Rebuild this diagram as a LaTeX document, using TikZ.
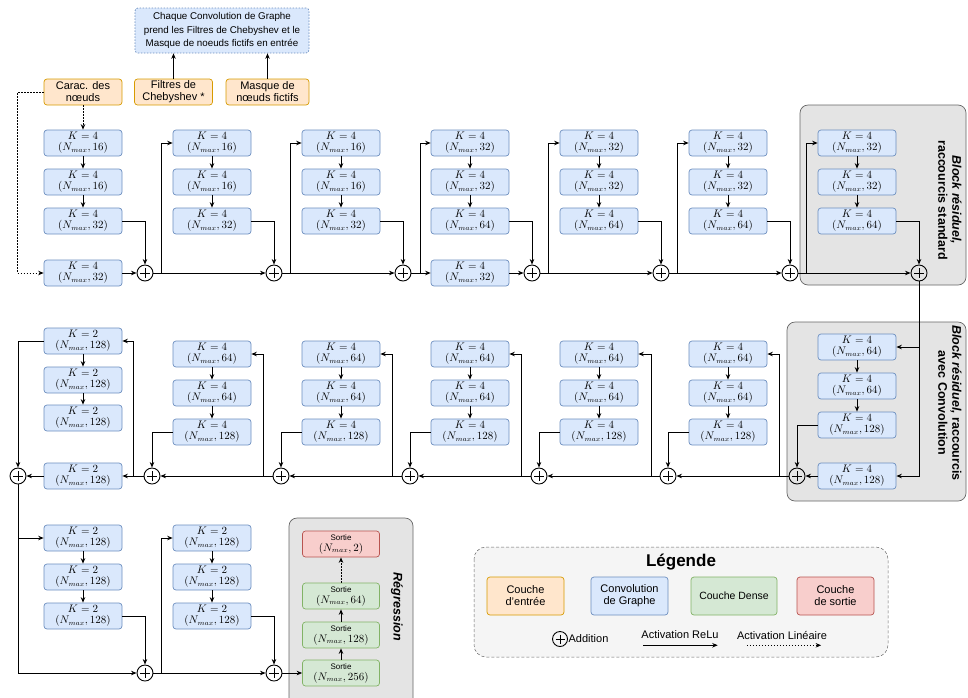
\documentclass[tikz,border=0pt]{standalone}
\usepackage{fontspec}
\setmainfont{Liberation Sans}
\usepackage{xcolor}
\usepackage{tikz}
\usetikzlibrary{shapes,arrows,positioning,calc,arrows.meta}

\definecolor{convfill}{HTML}{DAE8FC}
\definecolor{convline}{HTML}{6C8EBF}
\definecolor{entreefill}{HTML}{FFE6CC}
\definecolor{entreeline}{HTML}{D79B00}
\definecolor{densefill}{HTML}{D5E8D4}
\definecolor{denseline}{HTML}{82B366}
\definecolor{sortiefill}{HTML}{F8CECC}
\definecolor{sortieline}{HTML}{B85450}
\definecolor{blockfill}{HTML}{E4E4E4}
\definecolor{blockline}{HTML}{666666}
\definecolor{legfill}{HTML}{F5F5F5}

\tikzset{
    conv/.style={draw=convline, fill=convfill, rounded corners=3pt, line width=0.7pt,
        minimum width=78pt, minimum height=26pt, inner sep=0pt, align=center,
        font=\fontsize{10.5}{11}\selectfont},
    entree/.style={conv, draw=entreeline, fill=entreefill, font=\fontsize{11}{12}\selectfont},
    dense/.style={conv, minimum width=77pt, draw=denseline, fill=densefill},
    sortie/.style={conv, minimum width=77pt, draw=sortieline, fill=sortiefill},
    note/.style={conv, dash pattern=on 1.5pt off 1.5pt, minimum width=174pt, minimum height=45pt,
        font=\fontsize{9.8}{13.5}\selectfont},
    addnode/.style={circle, draw, line width=0.9pt, minimum size=16pt, inner sep=0pt,
        path picture={\draw[line width=0.9pt]
            ([yshift=-3pt]path picture bounding box.north) -- ([yshift=3pt]path picture bounding box.south)
            ([xshift=3pt]path picture bounding box.west) -- ([xshift=-3pt]path picture bounding box.east);}},
    arr/.style={-{Stealth[length=5.5pt,width=4.5pt]}, line width=0.85pt},
    dotarr/.style={arr, dash pattern=on 1.5pt off 1.5pt},
    block/.style={draw=blockline, fill=blockfill, rounded corners=8pt, line width=0.7pt},
    blocktitle/.style={rotate=-90, align=center, inner sep=0pt, font=\bfseries\fontsize{12.5}{14}\selectfont}
}

\newcommand{\sortietxt}[1]{{\fontsize{8}{10}\selectfont Sortie}\\$(N_{max},#1)$}

\begin{document}
\begin{tikzpicture}[x=1pt, y=-1pt]
    \useasboundingbox (0,0) rectangle (968,697);

    % Blocks in the background
    \draw[block] (800,105) rectangle (966,285);
    \draw[block] (787,322) rectangle (966,501);
    \draw[block] (289,518) rectangle (413,706);
    \node[blocktitle] (blk1) at (950,200) {\textit{Block résiduel,}\\raccourcis standard};
    \node[blocktitle] (blk2) at (950,403) {\textit{Block résiduel,} raccourcis\\avec Convolution};
    \node[blocktitle] (regr) at (397,607) {\textit{Régression}};

    % Inputs
    \node[entree] (carac) at (83,92) {Carac. des\\nœuds};
    \node[entree] (filtres) at (173.5,92) {Filtres de\\Chebyshev *};
    \node[entree, minimum width=83pt] (masque) at (267.5,92) {Masque de\\nœuds fictifs};
    \node[note] (info) at (222,30.5) {Chaque Convolution de Graphe\\prend les Filtres de Chebyshev et le\\Masque de noeuds fictifs en entrée};
    \draw[arr] (filtres.north) -- (filtres.north |- info.south);
    \draw[arr] (masque.north) -- (masque.north |- info.south);

    % First row
    \node[conv] (a1-1) at (83,143) {$K=4$\\$(N_{max},16)$};
    \node[conv] (a1-2) at (83,182) {$K=4$\\$(N_{max},16)$};
    \node[conv] (a1-3) at (83,221) {$K=4$\\$(N_{max},32)$};
    \node[conv] (a1-s) at (83,273) {$K=4$\\$(N_{max},32)$};
    \node[conv] (a2-1) at (212,143) {$K=4$\\$(N_{max},16)$};
    \node[conv] (a2-2) at (212,182) {$K=4$\\$(N_{max},16)$};
    \node[conv] (a2-3) at (212,221) {$K=4$\\$(N_{max},32)$};
    \node[conv] (a3-1) at (341,143) {$K=4$\\$(N_{max},16)$};
    \node[conv] (a3-2) at (341,182) {$K=4$\\$(N_{max},16)$};
    \node[conv] (a3-3) at (341,221) {$K=4$\\$(N_{max},32)$};
    \node[conv] (a4-1) at (470,143) {$K=4$\\$(N_{max},32)$};
    \node[conv] (a4-2) at (470,182) {$K=4$\\$(N_{max},32)$};
    \node[conv] (a4-3) at (470,221) {$K=4$\\$(N_{max},64)$};
    \node[conv] (a4-s) at (470,273) {$K=4$\\$(N_{max},32)$};
    \node[conv] (a5-1) at (599,143) {$K=4$\\$(N_{max},32)$};
    \node[conv] (a5-2) at (599,182) {$K=4$\\$(N_{max},32)$};
    \node[conv] (a5-3) at (599,221) {$K=4$\\$(N_{max},64)$};
    \node[conv] (a6-1) at (728,143) {$K=4$\\$(N_{max},32)$};
    \node[conv] (a6-2) at (728,182) {$K=4$\\$(N_{max},32)$};
    \node[conv] (a6-3) at (728,221) {$K=4$\\$(N_{max},64)$};
    \node[conv] (a7-1) at (857,143) {$K=4$\\$(N_{max},32)$};
    \node[conv] (a7-2) at (857,182) {$K=4$\\$(N_{max},32)$};
    \node[conv] (a7-3) at (857,221) {$K=4$\\$(N_{max},64)$};
    \node[addnode] (pa1) at (145,273) {};
    \node[addnode] (pa2) at (274,273) {};
    \node[addnode] (pa3) at (403,273) {};
    \node[addnode] (pa4) at (532,273) {};
    \node[addnode] (pa5) at (661,273) {};
    \node[addnode] (pa6) at (790,273) {};
    \node[addnode] (pa7) at (919,273) {};

    \draw[dotarr] (carac.south) -- (a1-1.north);
    \draw[dotarr] (carac.west) -- ++(-26,0) |- (a1-s.west);
    \draw[arr] (a1-1) -- (a1-2);
    \draw[arr] (a1-2) -- (a1-3);
    \draw[arr] (a2-1) -- (a2-2);
    \draw[arr] (a2-2) -- (a2-3);
    \draw[arr] (a3-1) -- (a3-2);
    \draw[arr] (a3-2) -- (a3-3);
    \draw[arr] (a4-1) -- (a4-2);
    \draw[arr] (a4-2) -- (a4-3);
    \draw[arr] (a5-1) -- (a5-2);
    \draw[arr] (a5-2) -- (a5-3);
    \draw[arr] (a6-1) -- (a6-2);
    \draw[arr] (a6-2) -- (a6-3);
    \draw[arr] (a7-1) -- (a7-2);
    \draw[arr] (a7-2) -- (a7-3);
    \draw[arr] (a1-3.east) -| (pa1.north);
    \draw[arr] (a2-3.east) -| (pa2.north);
    \draw[arr] (a3-3.east) -| (pa3.north);
    \draw[arr] (a4-3.east) -| (pa4.north);
    \draw[arr] (a5-3.east) -| (pa5.north);
    \draw[arr] (a6-3.east) -| (pa6.north);
    \draw[arr] (a7-3.east) -| (pa7.north);
    \draw[arr] (a1-s.east) -- (pa1.west);
    \draw[arr] (pa1.east) -- (pa2.west);
    \draw[arr] (pa2.east) -- (pa3.west);
    \draw[arr] (pa3.east) -- (a4-s.west);
    \draw[arr] (a4-s.east) -- (pa4.west);
    \draw[arr] (pa4.east) -- (pa5.west);
    \draw[arr] (pa5.east) -- (pa6.west);
    \draw[arr] (pa6.east) -- (pa7.west);
    \draw[arr] ([xshift=8pt]pa1.east) |- (a2-1.west);
    \draw[arr] ([xshift=8pt]pa2.east) |- (a3-1.west);
    \draw[arr] ([xshift=9pt]pa3.east) |- (a4-1.west);
    \draw[arr] ([xshift=8pt]pa4.east) |- (a5-1.west);
    \draw[arr] ([xshift=8pt]pa5.east) |- (a6-1.west);
    \draw[arr] ([xshift=8pt]pa6.east) |- (a7-1.west);

    % Second row
    \node[conv] (b7-1) at (857,347) {$K=4$\\$(N_{max},64)$};
    \node[conv] (b7-2) at (857,386) {$K=4$\\$(N_{max},64)$};
    \node[conv] (b7-3) at (857,425) {$K=4$\\$(N_{max},128)$};
    \node[conv] (b7-s) at (857,476) {$K=4$\\$(N_{max},128)$};
    \node[conv] (b6-1) at (728,354) {$K=4$\\$(N_{max},64)$};
    \node[conv] (b6-2) at (728,393) {$K=4$\\$(N_{max},64)$};
    \node[conv] (b6-3) at (728,432) {$K=4$\\$(N_{max},128)$};
    \node[conv] (b5-1) at (599,354) {$K=4$\\$(N_{max},64)$};
    \node[conv] (b5-2) at (599,393) {$K=4$\\$(N_{max},64)$};
    \node[conv] (b5-3) at (599,432) {$K=4$\\$(N_{max},128)$};
    \node[conv] (b4-1) at (470,354) {$K=4$\\$(N_{max},64)$};
    \node[conv] (b4-2) at (470,393) {$K=4$\\$(N_{max},64)$};
    \node[conv] (b4-3) at (470,432) {$K=4$\\$(N_{max},128)$};
    \node[conv] (b3-1) at (341,354) {$K=4$\\$(N_{max},64)$};
    \node[conv] (b3-2) at (341,393) {$K=4$\\$(N_{max},64)$};
    \node[conv] (b3-3) at (341,432) {$K=4$\\$(N_{max},128)$};
    \node[conv] (b2-1) at (212,354) {$K=4$\\$(N_{max},64)$};
    \node[conv] (b2-2) at (212,393) {$K=4$\\$(N_{max},64)$};
    \node[conv] (b2-3) at (212,432) {$K=4$\\$(N_{max},128)$};
    \node[conv] (b1-1) at (83,341) {$K=2$\\$(N_{max},128)$};
    \node[conv] (b1-2) at (83,380) {$K=2$\\$(N_{max},128)$};
    \node[conv] (b1-3) at (83,418) {$K=2$\\$(N_{max},128)$};
    \node[conv] (b1-s) at (83,476) {$K=2$\\$(N_{max},128)$};
    \node[addnode] (pb7) at (797,476) {};
    \node[addnode] (pb6) at (668,476) {};
    \node[addnode] (pb5) at (539,476) {};
    \node[addnode] (pb4) at (410,476) {};
    \node[addnode] (pb3) at (281,476) {};
    \node[addnode] (pb2) at (152,476) {};
    \node[addnode] (pb1) at (18,476) {};

    \draw[arr] (pa7.south) |- (b7-1.east);
    \draw[arr] (pa7.south) |- (b7-s.east);
    \draw[arr] (b7-1) -- (b7-2);
    \draw[arr] (b7-2) -- (b7-3);
    \draw[arr] (b6-1) -- (b6-2);
    \draw[arr] (b6-2) -- (b6-3);
    \draw[arr] (b5-1) -- (b5-2);
    \draw[arr] (b5-2) -- (b5-3);
    \draw[arr] (b4-1) -- (b4-2);
    \draw[arr] (b4-2) -- (b4-3);
    \draw[arr] (b3-1) -- (b3-2);
    \draw[arr] (b3-2) -- (b3-3);
    \draw[arr] (b2-1) -- (b2-2);
    \draw[arr] (b2-2) -- (b2-3);
    \draw[arr] (b1-1) -- (b1-2);
    \draw[arr] (b1-2) -- (b1-3);
    \draw[arr] (b7-3.west) -| (pb7.north);
    \draw[arr] (b6-3.west) -| (pb6.north);
    \draw[arr] (b5-3.west) -| (pb5.north);
    \draw[arr] (b4-3.west) -| (pb4.north);
    \draw[arr] (b3-3.west) -| (pb3.north);
    \draw[arr] (b2-3.west) -| (pb2.north);
    \draw[arr] (b1-1.west) -| (pb1.north);
    \draw[arr] (b7-s.west) -- (pb7.east);
    \draw[arr] (pb7.west) -- (pb6.east);
    \draw[arr] (pb6.west) -- (pb5.east);
    \draw[arr] (pb5.west) -- (pb4.east);
    \draw[arr] (pb4.west) -- (pb3.east);
    \draw[arr] (pb3.west) -- (pb2.east);
    \draw[arr] (pb2.west) -- (b1-s.east);
    \draw[arr] (b1-s.west) -- (pb1.east);
    \draw[arr] ([xshift=-9pt]pb7.west) |- (b6-1.east);
    \draw[arr] ([xshift=-8pt]pb6.west) |- (b5-1.east);
    \draw[arr] ([xshift=-9pt]pb5.west) |- (b4-1.east);
    \draw[arr] ([xshift=-9pt]pb4.west) |- (b3-1.east);
    \draw[arr] ([xshift=-9pt]pb3.west) |- (b2-1.east);
    \draw[arr] ([xshift=-10pt]pb2.west) |- (b1-1.east);

    % Third row
    \node[conv] (c1-1) at (83,538) {$K=2$\\$(N_{max},128)$};
    \node[conv] (c1-2) at (83,577) {$K=2$\\$(N_{max},128)$};
    \node[conv] (c1-3) at (83,616) {$K=2$\\$(N_{max},128)$};
    \node[conv] (c2-1) at (212,538) {$K=2$\\$(N_{max},128)$};
    \node[conv] (c2-2) at (212,577) {$K=2$\\$(N_{max},128)$};
    \node[conv] (c2-3) at (212,616) {$K=2$\\$(N_{max},128)$};
    \node[addnode] (pc1) at (145,673) {};
    \node[addnode] (pc2) at (274,673) {};

    \draw[arr] (pb1.south) |- (pc1.west);
    \draw[arr] (pb1.south) |- (c1-1.west);
    \draw[arr] (c1-1) -- (c1-2);
    \draw[arr] (c1-2) -- (c1-3);
    \draw[arr] (c2-1) -- (c2-2);
    \draw[arr] (c2-2) -- (c2-3);
    \draw[arr] (c1-3.east) -| (pc1.north);
    \draw[arr] (c2-3.east) -| (pc2.north);
    \draw[arr] (pc1.east) -- (pc2.west);
    \draw[arr] ([xshift=8pt]pc1.east) |- (c2-1.west);

    % Regression
    \node[sortie] (s1) at (341,544) {\sortietxt{2}};
    \node[dense] (s2) at (341,596) {\sortietxt{64}};
    \node[dense] (s3) at (341,635) {\sortietxt{128}};
    \node[dense] (s4) at (341,673) {\sortietxt{256}};
    \draw[arr] (pc2.east) -- (s4.west);
    \draw[arr] (s4) -- (s3);
    \draw[arr] (s3) -- (s2);
    \draw[dotarr] (s2) -- (s1);

    % Legend
    \draw[draw=blockline, fill=legfill, rounded corners=12pt, line width=0.5pt, dash pattern=on 3pt off 2pt] (474,547) rectangle (888,657);
    \node[font=\bfseries\fontsize{17}{20}\selectfont] (leg-titre) at (681,562) {Légende};
    \node[entree, minimum width=77pt, minimum height=38pt] (leg-in) at (525.5,596) {Couche\\d'entrée};
    \node[conv, minimum width=77pt, minimum height=38pt, font=\fontsize{11}{12}\selectfont] (leg-conv) at (629.5,596) {Convolution\\de Graphe};
    \node[dense, minimum width=86pt, minimum height=38pt] (leg-dense) at (734,596) {Couche Dense};
    \node[sortie, minimum height=38pt, font=\fontsize{11}{12}\selectfont] (leg-out) at (835.5,596) {Couche\\de sortie};
    \node[addnode, minimum size=15pt] (leg-add) at (560,639) {};
    \node[anchor=west, inner sep=0.5pt, font=\fontsize{11}{12}\selectfont] (leg-addtxt) at (leg-add.east) {Addition};
    \node[inner sep=0pt, font=\fontsize{11}{12}\selectfont] (leg-relu) at (680,635) {Activation ReLu};
    \node[inner sep=0pt, font=\fontsize{11}{12}\selectfont] (leg-lin) at (782,635) {Activation Linéaire};
    \draw[arr] ([xshift=2pt,yshift=-6pt]leg-relu.south west) -- ([xshift=-1pt,yshift=-6pt]leg-relu.south east);
    \draw[dotarr] ([xshift=10pt,yshift=-6pt]leg-lin.south west) -- ([xshift=-6pt,yshift=-6pt]leg-lin.south east);

\end{tikzpicture}
\end{document}
